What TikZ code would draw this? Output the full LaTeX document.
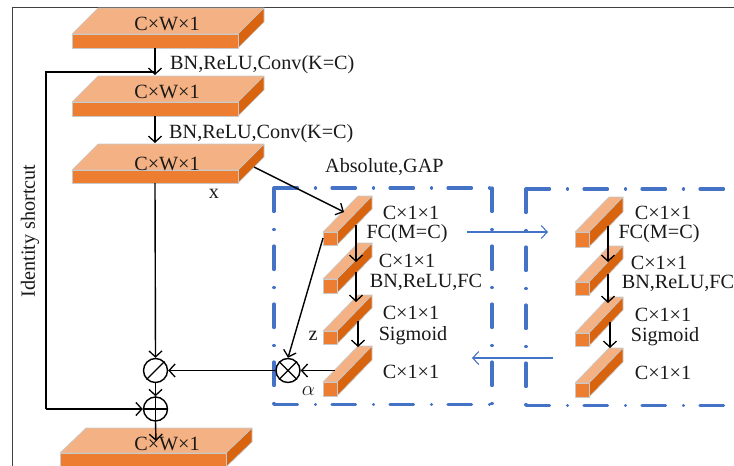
\documentclass[tikz,border=0pt]{standalone}
\usepackage{fontspec}
\setmainfont{Liberation Serif}
\usetikzlibrary{arrows.meta}
\definecolor{otop}{HTML}{F4B183}
\definecolor{ofront}{HTML}{ED7D31}
\definecolor{oside}{HTML}{D9640F}
\definecolor{oedge}{HTML}{C9C9C9}
\definecolor{bbox}{HTML}{4472C4}
\tikzset{
 edge3d/.style={draw=oedge,line width=0.7pt,line join=round},
 lbl/.style={inner sep=0pt,font=\fontsize{20.2}{22}\selectfont,text=black!90},
 conn/.style={draw=black,line width=1.4pt,-{Straight Barb[length=6pt,width=13pt,line width=1.3pt]}},
 wire/.style={draw=black,line width=1.4pt},
 thinblue/.style={draw=bbox,line width=1.1pt,-{Straight Barb[length=6pt,width=13pt,line width=1.1pt]}},
 dashbox/.style={draw=bbox,line width=3.2pt,line cap=round,dash pattern=on 23.5pt off 18pt on 0.01pt off 16.49pt},
 opc/.style={circle,draw=black,line width=1.4pt,minimum size=24pt,inner sep=0pt,fill=white},
}
% block: front-left x, front-top y, front width, front height, depth x, depth y
\newcommand{\block}[6]{%
 \fill[otop,edge3d] (#1,#2) -- ++(#5,-#6) -- ++(#3,0) -- ++(-#5,#6) -- cycle;
 \fill[oside,edge3d] (#1+#3,#2) -- ++(#5,-#6) -- ++(0,#4) -- ++(-#5,#6) -- cycle;
 \fill[ofront,edge3d] (#1,#2) rectangle ++(#3,#4);
}
\begin{document}
\begin{tikzpicture}[x=1pt,y=-1pt]
\useasboundingbox (0,0) rectangle (734,466);
\draw[black!75,line width=1pt] (12,466) -- (12,7.5) -- (734,7.5);
% slabs
\block{72}{34}{166}{14}{26}{26}
\block{72}{102}{166}{14}{26}{26}
\block{72}{170}{166}{13}{26}{26}
\block{60}{453}{166}{14}{26}{25}
% bars
\block{323}{232}{14}{13}{35}{36}
\block{323}{279}{14}{14}{35}{36}
\block{323}{331}{14}{13}{35}{36}
\block{323}{382}{14}{14}{35}{36}
\block{575}{232}{14}{15}{34}{35}
\block{575}{282}{14}{13}{34}{36}
\block{575}{333}{14}{13}{34}{36}
\block{575}{383}{14}{14}{34}{35}
% dash-dot boxes
\draw[dashbox] (274,188) -- (492,188);
\draw[dashbox] (274,188) -- (274,404);
\draw[dashbox] (274,404.5) -- (492,404.5);
\draw[dashbox] (492,188) -- (492,404);
\draw[dashbox] (526,189) -- (724,189);
\draw[dashbox] (526,189) -- (526,405);
\draw[dashbox] (526,405.5) -- (724,405.5);
% operators
\node[opc] (div) at (155.5,370.5) {};
\node[opc] (add) at (155.5,409) {};
\node[opc] (mul) at (288,370.5) {};
\draw[wire] (div.45) -- (div.225);
\draw[wire] (mul.45) -- (mul.225) (mul.135) -- (mul.315);
\draw[wire] (add.north) -- (add.south) (add.west) -- (add.east);
\coordinate (s1) at (155,48);
\coordinate (s2t) at (155,75);
\coordinate (s2) at (155,116);
\coordinate (s3t) at (155,143);
\coordinate (s3) at (155,183);
\coordinate (s3r) at (254,167);
\coordinate (a1) at (344,212);
\coordinate (a1l) at (323,238);
\coordinate (a4) at (334.5,370.5);
\coordinate (s4) at (156,441);
\coordinate (short) at (155,72);
\coordinate (sa) at (46,72);
\coordinate (sb) at (46,409);
\draw[conn] (s1) -- (s2t);
\draw[conn] (s2) -- (s3t);
\draw[wire] (sb) -- (sa) -- (short);
\draw[conn] (sb) -- (add.west);
\draw[conn] (s3) -- (div.north);
\draw[conn] (mul.west) -- (div.east);
\draw[conn] (a4) -- (mul.east);
\draw[conn] (s3r) -- (a1);
\draw[conn] (a1l) -- (mul.north);
\draw[conn] (div.south) -- (add.north);
\draw[conn] (add.south) -- (s4);
\coordinate (b1) at (356,225);
\coordinate (b2) at (356,262);
\coordinate (b3) at (356,272);
\coordinate (b4) at (356,302);
\coordinate (b5) at (358,321);
\coordinate (b6) at (358,347);
\draw[conn] (b1) -- (b2);
\draw[conn] (b3) -- (b4);
\draw[conn] (b5) -- (b6);
\coordinate (c1) at (608,226);
\coordinate (c2) at (608,262);
\coordinate (c3) at (608,274);
\coordinate (c4) at (608,303);
\coordinate (c5) at (610,322);
\coordinate (c6) at (610,348);
\draw[conn] (c1) -- (c2);
\draw[conn] (c3) -- (c4);
\draw[conn] (c5) -- (c6);
\coordinate (f1) at (467,232);
\coordinate (f2) at (548,232);
\coordinate (f3) at (553,358);
\coordinate (f4) at (472,358);
\draw[thinblue] (f1) -- (f2);
\draw[thinblue] (f3) -- (f4);
% labels
\node[lbl] (t1) at (167,24) {C×W×1};
\node[lbl] (t2) at (167,91.5) {C×W×1};
\node[lbl] (t3) at (167,163.5) {C×W×1};
\node[lbl] (t4) at (167,444) {C×W×1};
\node[lbl,anchor=west] (k1) at (170,64.5) {BN,ReLU,Conv(K=C)};
\node[lbl,anchor=west] (k2) at (169,133.5) {BN,ReLU,Conv(K=C)};
\node[lbl] (x) at (214,194) {x};
\node[lbl,anchor=west] (gap) at (325,167) {Absolute,GAP};
\node[lbl,rotate=90] (id) at (30,231) {Identity shortcut};
\node[lbl] (z) at (313,336) {z};
\node[lbl] (al) at (308.5,391) {$\alpha$};
\node[lbl] (a) at (411,213) {C×1×1};
\node[lbl] (b) at (407,233.5) {FC(M=C)};
\node[lbl] (c) at (407,260.5) {C×1×1};
\node[lbl] (d) at (426,282.5) {BN,ReLU,FC};
\node[lbl] (e) at (411,312.5) {C×1×1};
\node[lbl] (f) at (413,336) {Sigmoid};
\node[lbl] (g) at (411,371.5) {C×1×1};
\node[lbl] (h) at (663,213) {C×1×1};
\node[lbl] (i) at (659,234) {FC(M=C)};
\node[lbl] (j) at (659,262.5) {C×1×1};
\node[lbl] (l) at (678,283.5) {BN,ReLU,FC};
\node[lbl] (m) at (663,314.5) {C×1×1};
\node[lbl] (n) at (665,337) {Sigmoid};
\node[lbl] (o) at (663,372.5) {C×1×1};
\end{tikzpicture}
\end{document}
